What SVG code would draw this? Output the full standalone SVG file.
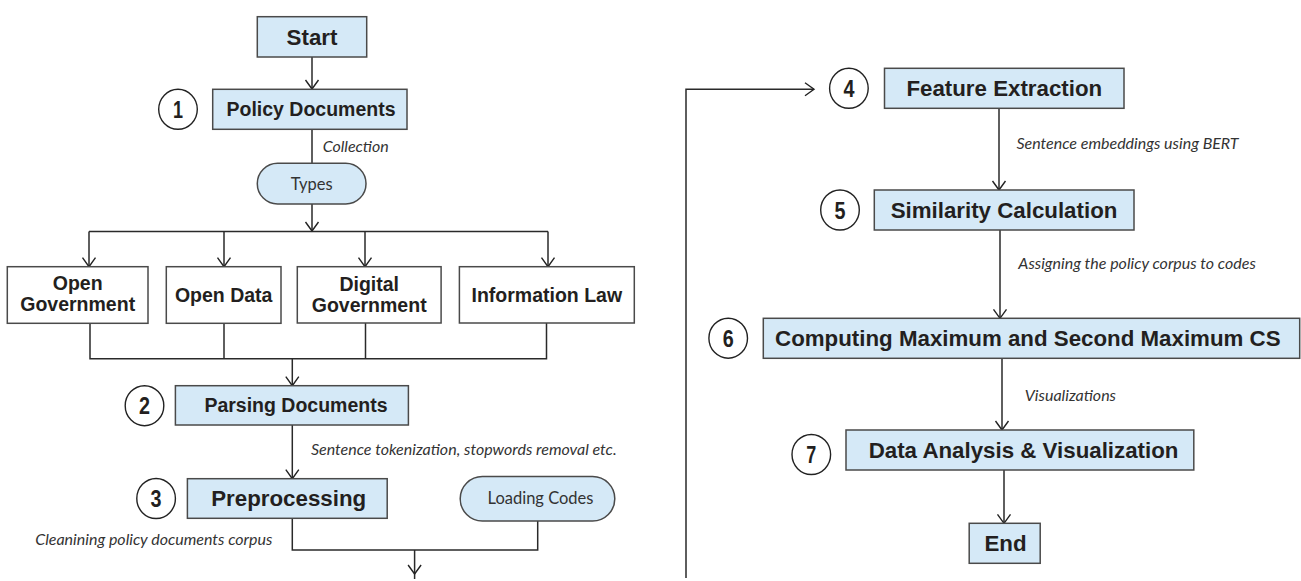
<svg xmlns="http://www.w3.org/2000/svg" width="1301" height="581" viewBox="0 0 1301 581">
<style>
.bx{fill:#d5e9f7;stroke:#4a4a4a;stroke-width:1.5}
.wb{fill:#ffffff;stroke:#4a4a4a;stroke-width:1.5}
.cir{fill:#ffffff;stroke:#222;stroke-width:1.4}
.b{font-family:"Liberation Sans",Arial,sans-serif;font-weight:bold;fill:#231f20;text-anchor:middle}
.s19{font-size:19.5px}
.s22{font-size:22.3px}
.num{font-family:"Liberation Sans",Arial,sans-serif;font-weight:bold;font-size:24px;fill:#231f20;text-anchor:middle}
.pt{font-family:Lato,"Open Sans",sans-serif;font-size:16.5px;fill:#333;text-anchor:middle}
.lbl{font-family:Lato,"Open Sans",sans-serif;font-style:italic;font-size:16px;fill:#333}
.ln{fill:none;stroke:#2a2a2a;stroke-width:1.5}
</style>
<defs>
<marker id="arr" markerUnits="userSpaceOnUse" markerWidth="16" markerHeight="16" viewBox="-10 -8 12 16" refX="0" refY="0" orient="auto">
<path d="M-9,-6.5 L0,0 L-9,6.5" fill="none" stroke="#222" stroke-width="1.4"/>
</marker>
</defs>
<rect width="1301" height="581" fill="#ffffff"/>

<g id="connectors">
<path class="ln" d="M312,57 V89" marker-end="url(#arr)"/>
<path class="ln" d="M312,129.3 V163.3"/>
<text class="lbl" x="322.7" y="152">Collection</text>
<path class="ln" d="M312,204 V231" marker-end="url(#arr)"/>
<path class="ln" d="M89,231.5 H548"/>
<path class="ln" d="M89,231.5 V266.7" marker-end="url(#arr)"/>
<path class="ln" d="M224,231.5 V266.7" marker-end="url(#arr)"/>
<path class="ln" d="M365,231.5 V266.7" marker-end="url(#arr)"/>
<path class="ln" d="M548,231.5 V266.7" marker-end="url(#arr)"/>
<path class="ln" d="M90,323.3 V358.7 H546.5 V322.7"/>
<path class="ln" d="M224,323.3 V358.7"/>
<path class="ln" d="M365.5,322.7 V358.7"/>
<path class="ln" d="M292.3,358.7 V385.7" marker-end="url(#arr)"/>
<path class="ln" d="M292.3,425 V478.7" marker-end="url(#arr)"/>
<text class="lbl" x="311" y="455">Sentence tokenization, stopwords removal etc.</text>
<path class="ln" d="M292.3,518.3 V550 H537.7 V521"/>
<text class="lbl" x="35.2" y="544.5">Cleanining policy documents corpus</text>
<path class="ln" d="M414.6,550 V574 V579" marker-mid="url(#arr)"/>
<path class="ln" d="M686,578 V89.3 H814" marker-end="url(#arr)"/>
<path class="ln" d="M999,108.3 V190" marker-end="url(#arr)"/>
<text class="lbl" x="1016.5" y="149">Sentence embeddings using BERT</text>
<path class="ln" d="M1000,230 V318.3" marker-end="url(#arr)"/>
<text class="lbl" x="1018.3" y="269">Assigning the policy corpus to codes</text>
<path class="ln" d="M1002,358.3 V430" marker-end="url(#arr)"/>
<text class="lbl" x="1024.8" y="400.5">Visualizations</text>
<path class="ln" d="M1004,470 V523.3" marker-end="url(#arr)"/>
</g>

<g id="start">
<rect class="bx" x="257.3" y="16.7" width="109.4" height="40.3"/>
<text class="b s22" x="312" y="45">Start</text>
</g>

<g id="step1">
<ellipse class="cir" cx="178" cy="109.3" rx="19.3" ry="20"/>
<text class="num" x="178" y="117.8" textLength="10" lengthAdjust="spacingAndGlyphs">1</text>
</g>
<g id="policy-documents">
<rect class="bx" x="212.7" y="89.3" width="194.3" height="40"/>
<text class="b s19" x="311" y="116">Policy Documents</text>
</g>

<g id="types">
<rect class="bx" x="257.3" y="163.3" width="108.7" height="40.7" rx="20.3" ry="20.3"/>
<text class="pt" x="311.7" y="189.5">Types</text>
</g>

<g id="open-government">
<rect class="wb" x="7.3" y="266.7" width="140.7" height="56.6"/>
<text class="b s19" x="77.7" y="289.5">Open</text>
<text class="b s19" x="77.7" y="311">Government</text>
</g>
<g id="open-data">
<rect class="wb" x="166.3" y="266.7" width="114.7" height="56.6"/>
<text class="b s19" x="223.7" y="301.7">Open Data</text>
</g>
<g id="digital-government">
<rect class="wb" x="297.3" y="266.7" width="143.8" height="56.3"/>
<text class="b s19" x="369.2" y="290.5">Digital</text>
<text class="b s19" x="369.2" y="312">Government</text>
</g>
<g id="information-law">
<rect class="wb" x="459.4" y="266.7" width="174.9" height="56.3"/>
<text class="b s19" x="546.8" y="301.7">Information Law</text>
</g>

<g id="step2">
<ellipse class="cir" cx="144.5" cy="405.7" rx="19.3" ry="20"/>
<text class="num" x="144.5" y="414.2" textLength="11" lengthAdjust="spacingAndGlyphs">2</text>
</g>
<g id="parsing-documents">
<rect class="bx" x="175.4" y="385.7" width="233" height="39.3"/>
<text class="b s19" x="296" y="412">Parsing Documents</text>
</g>

<g id="step3">
<ellipse class="cir" cx="156.1" cy="498.5" rx="19.3" ry="20"/>
<text class="num" x="156.1" y="507" textLength="11" lengthAdjust="spacingAndGlyphs">3</text>
</g>
<g id="preprocessing">
<rect class="bx" x="187.4" y="478.7" width="199.8" height="39.6"/>
<text class="b s22" x="288.7" y="506">Preprocessing</text>
</g>

<g id="loading-codes">
<rect class="bx" x="460.2" y="476.5" width="154.6" height="44.5" rx="22.2" ry="22.2"/>
<text class="pt" x="540.5" y="504">Loading Codes</text>
</g>

<g id="step4">
<ellipse class="cir" cx="848.9" cy="88.3" rx="19.3" ry="20"/>
<text class="num" x="848.9" y="96.8" textLength="11" lengthAdjust="spacingAndGlyphs">4</text>
</g>
<g id="feature-extraction">
<rect class="bx" x="884.5" y="68.3" width="239.5" height="40"/>
<text class="b s22" x="1004.3" y="96.3">Feature Extraction</text>
</g>

<g id="step5">
<ellipse class="cir" cx="840" cy="210" rx="19.3" ry="20"/>
<text class="num" x="840" y="218.5" textLength="11" lengthAdjust="spacingAndGlyphs">5</text>
</g>
<g id="similarity-calculation">
<rect class="bx" x="874.3" y="190" width="259.7" height="40"/>
<text class="b s22" x="1004" y="218">Similarity Calculation</text>
</g>

<g id="step6">
<ellipse class="cir" cx="728.2" cy="338.2" rx="19.3" ry="20"/>
<text class="num" x="728.2" y="346.7" textLength="11" lengthAdjust="spacingAndGlyphs">6</text>
</g>
<g id="computing-max">
<rect class="bx" x="763.3" y="318.3" width="536.4" height="40"/>
<text class="b s22" x="1027.8" y="346.3">Computing Maximum and Second Maximum CS</text>
</g>

<g id="step7">
<ellipse class="cir" cx="811.3" cy="454.5" rx="19.3" ry="20"/>
<text class="num" x="811.3" y="463" textLength="10" lengthAdjust="spacingAndGlyphs">7</text>
</g>
<g id="data-analysis">
<rect class="bx" x="846" y="430" width="347.8" height="40"/>
<text class="b s22" x="1023.6" y="458">Data Analysis &amp; Visualization</text>
</g>

<g id="end">
<rect class="bx" x="969.2" y="523.3" width="71" height="40"/>
<text class="b s22" x="1005.5" y="551.3">End</text>
</g>
</svg>
